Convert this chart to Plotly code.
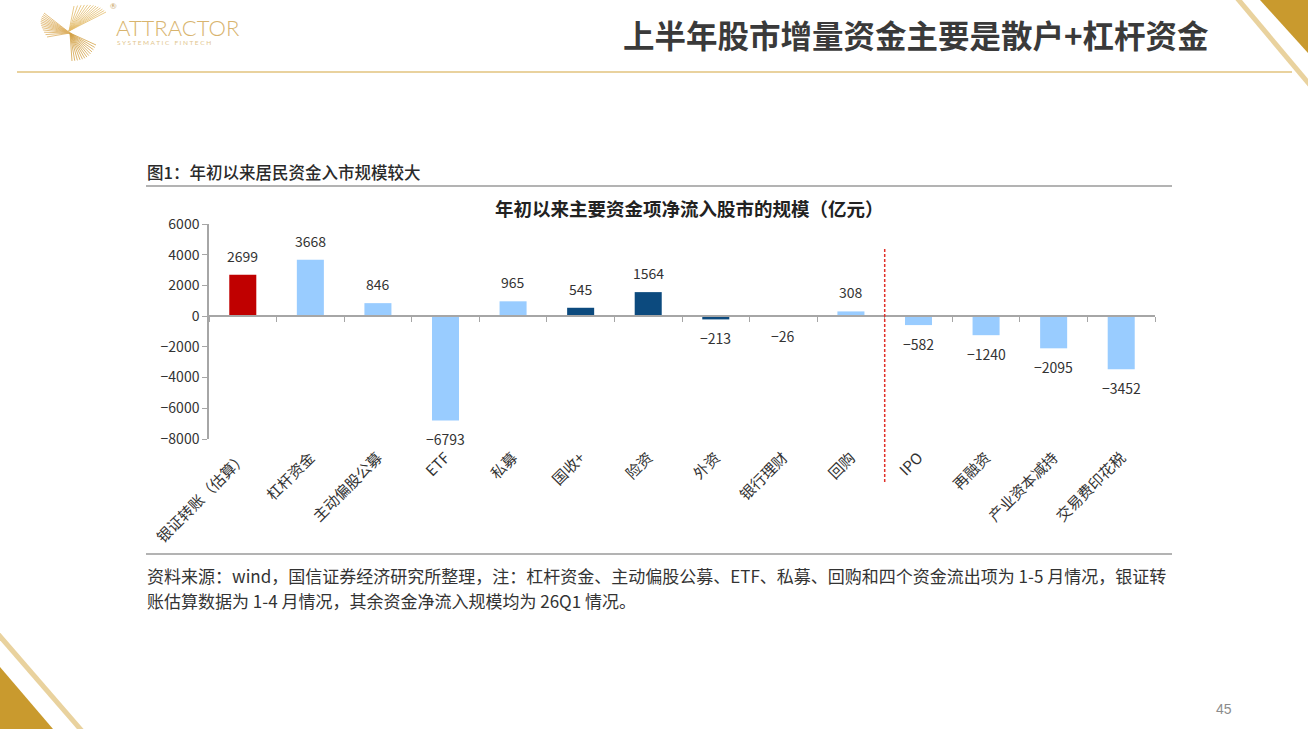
import plotly.graph_objects as go
import math

# ---------------- data ----------------
categories = ["银证转账（估算）", "杠杆资金", "主动偏股公募", "ETF", "私募", "国收+", "险资",
              "外资", "银行理财", "回购", "IPO", "再融资", "产业资本减持", "交易费印花税"]
values = [2699, 3668, 846, -6793, 965, 545, 1564, -213, -26, 308, -582, -1240, -2095, -3452]
inflow_count = 10  # first 10 items are inflows, the rest are outflows
y_ticks = [-8000, -6000, -4000, -2000, 0, 2000, 4000, 6000]

page_title = "上半年股市增量资金主要是散户+杠杆资金"
fig_caption = "图1：年初以来居民资金入市规模较大"
chart_title = "年初以来主要资金项净流入股市的规模（亿元）"
note_line1 = "资料来源：wind，国信证券经济研究所整理，注：杠杆资金、主动偏股公募、ETF、私募、回购和四个资金流出项为 1-5 月情况，银证转"
note_line2 = "账估算数据为 1-4 月情况，其余资金净流入规模均为 26Q1 情况。"
page_no = "45"

# ---------------- styles ----------------
RED = "#C00000"
LIGHT = "#99CCFF"
NAVY = "#0C4A7E"
bar_colors = [RED, LIGHT, LIGHT, LIGHT, LIGHT, NAVY, NAVY, NAVY, LIGHT, LIGHT,
              LIGHT, LIGHT, LIGHT, LIGHT]
GOLD = "#C99A2E"
GOLD_LIGHT = "#E9D29E"
TXT = "#333333"
FONT = "Noto Sans CJK SC"

W, H = 1308, 729
L, R, T, B = 209, 153, 224, 290
PW, PH = W - L - R, H - T - B


def px(x):
    return (x - L) / PW


def py(y):
    return (H - B - y) / PH


def fmt(v):
    return str(v).replace("-", "−")


fig = go.Figure()
fig.add_trace(go.Bar(
    x=categories, y=values, marker=dict(color=bar_colors, line=dict(width=0)),
    width=0.4, hoverinfo="x+y", showlegend=False, xaxis="x", yaxis="y",
))
# invisible trace for the zero-line category axis (boundary tick marks)
fig.add_trace(go.Scatter(
    x=categories, y=[0] * len(categories), mode="markers", marker=dict(opacity=0),
    hoverinfo="skip", showlegend=False, xaxis="x2", yaxis="y",
))

annotations = []
# value labels
for c, v in zip(categories, values):
    annotations.append(dict(
        x=c, y=v, xref="x", yref="y", text=fmt(v),
        showarrow=False, yanchor="middle", xanchor="center",
        yshift=19 if v >= 0 else -19,
        font=dict(family=FONT, size=14, color=TXT),
    ))

# page texts
annotations += [
    dict(x=px(1211), y=py(34), xref="paper", yref="paper", text=f"<b>{page_title}</b>",
         showarrow=False, xanchor="right", yanchor="middle",
         font=dict(family=FONT, size=31.5, color="#3A3A3A")),
    dict(x=px(145), y=py(172), xref="paper", yref="paper", text=fig_caption,
         showarrow=False, xanchor="left", yanchor="middle",
         font=dict(family=FONT, size=16.5, color="#2A2A2A", weight=500)),
    dict(x=px(689), y=py(208), xref="paper", yref="paper", text=f"<b>{chart_title}</b>",
         showarrow=False, xanchor="center", yanchor="middle",
         font=dict(family=FONT, size=18.5, color="#222222")),
    dict(x=px(145), y=py(575), xref="paper", yref="paper", text=note_line1,
         showarrow=False, xanchor="left", yanchor="middle", align="left",
         font=dict(family=FONT, size=17, color=TXT)),
    dict(x=px(145), y=py(600), xref="paper", yref="paper", text=note_line2,
         showarrow=False, xanchor="left", yanchor="middle", align="left",
         font=dict(family=FONT, size=17, color=TXT)),
    dict(x=px(1224), y=py(709), xref="paper", yref="paper", text=page_no,
         showarrow=False, xanchor="center", yanchor="middle",
         font=dict(family="Liberation Sans", size=14, color="#8C8C8C")),
    # logo texts
    dict(x=px(114), y=py(27), xref="paper", yref="paper", text="ATTRACTOR",
         showarrow=False, xanchor="left", yanchor="middle",
         font=dict(family="Lato", size=22, color="#D8B46E", weight=300)),
    dict(x=px(115), y=py(42), xref="paper", yref="paper",
         text="S Y S T E M A T I C   F I N T E C H",
         showarrow=False, xanchor="left", yanchor="middle",
         font=dict(family="Lato", size=6.5, color="#E2C68E")),
    dict(x=px(113), y=py(6), xref="paper", yref="paper", text="®",
         showarrow=False, xanchor="center", yanchor="middle",
         font=dict(family="Lato", size=8, color="#C9A461")),
]

shapes = []


def pline(x0, y0, x1, y1, color, width, dash="solid"):
    return dict(type="line", xref="paper", yref="paper", x0=px(x0), y0=py(y0),
                x1=px(x1), y1=py(y1), line=dict(color=color, width=width, dash=dash))


def ppath(points, fill):
    d = "M " + " L ".join(f"{px(a):.5f},{py(b):.5f}" for a, b in points) + " Z"
    return dict(type="path", xref="paper", yref="paper", path=d,
                fillcolor=fill, line=dict(width=0))


# header rule and corner decorations
shapes.append(pline(17, 72, 1292, 72, GOLD_LIGHT, 2))
shapes.append(pline(1237, -2, 1310, 85, GOLD_LIGHT, 5))
shapes.append(ppath([(1260, 0), (1308, 0), (1308, 53)], GOLD))
shapes.append(pline(-2, 634, 82, 731, GOLD_LIGHT, 5))
shapes.append(ppath([(0, 667), (53, 729), (0, 729)], GOLD))

# chart frame rules
shapes.append(pline(146, 186, 1172, 186, "#9A9A9A", 1.5))
shapes.append(pline(146, 554, 1172, 554, "#9A9A9A", 1.5))

# inflow / outflow separator
shapes.append(dict(type="line", xref="x", yref="paper", x0=inflow_count - 0.5,
                   x1=inflow_count - 0.5, y0=py(482), y1=py(247),
                   line=dict(color="#E0302A", width=1.5, dash="3px,2px")))

# logo fan blades (decoration)
blades = [
    ((70, 33), (44, 13), (47, 37), "#DDB062"),
    ((69, 31), (74, 6), (106, 12), "#E3BC6C"),
    ((70, 33), (72, 61), (96, 45), "#D3A247"),
]
for (bx, by), (ax0, ay0), (ax1, ay1), col in blades:
    n = 12
    for k in range(n + 1):
        t = k / n
        ex = ax0 + (ax1 - ax0) * t
        ey = ay0 + (ay1 - ay0) * t
        mx, my = (ax0 + ax1) / 2, (ay0 + ay1) / 2
        dx, dy = mx - bx, my - by
        norm = math.hypot(dx, dy)
        bow = 5 * math.sin(math.pi * t)
        ex += dx / norm * bow
        ey += dy / norm * bow
        shapes.append(pline(bx, by, ex, ey, col, 0.8))

fig.update_layout(
    width=W, height=H, autosize=False,
    margin=dict(l=L, r=R, t=T, b=B, pad=0),
    paper_bgcolor="white", plot_bgcolor="rgba(0,0,0,0)",
    font=dict(family=FONT, color=TXT),
    bargap=0.6,
    xaxis=dict(
        type="category", categoryorder="array", categoryarray=categories,
        range=[-0.5, len(categories) - 0.5],
        showline=False, ticks="", showgrid=False, zeroline=False,
        tickangle=-45, tickfont=dict(family=FONT, size=15, color=TXT),
        ticklabelstandoff=6,
    ),
    xaxis2=dict(
        type="category", categoryorder="array", categoryarray=categories,
        range=[-0.5, len(categories) - 0.5],
        overlaying="x", anchor="free", position=8000 / 14000,
        showline=True, linecolor="#A6A6A6", linewidth=1.5,
        ticks="outside", tickson="boundaries", ticklen=5, tickcolor="#A6A6A6",
        tickwidth=1.2, showticklabels=False, showgrid=False, zeroline=False,
    ),
    yaxis=dict(
        range=[y_ticks[0], y_ticks[-1]], tickmode="array", tickvals=y_ticks,
        ticktext=[fmt(v) for v in y_ticks],
        showline=True, linecolor="#A6A6A6", linewidth=1.5,
        ticks="outside", ticklen=5, tickcolor="#A6A6A6", tickwidth=1.2,
        showgrid=False, zeroline=False,
        tickfont=dict(family=FONT, size=14, color=TXT),
    ),
    annotations=annotations,
    shapes=shapes,
)

fig.write_html("out.html", include_plotlyjs=True, full_html=True,
               config={"displayModeBar": False},
               post_script="document.body.style.margin='0';document.body.style.overflow='hidden';")
